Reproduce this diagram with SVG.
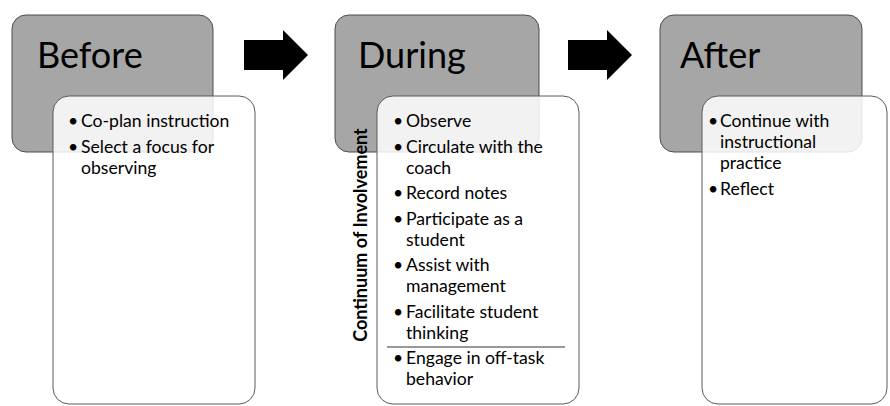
<svg xmlns="http://www.w3.org/2000/svg" width="890" height="406" viewBox="0 0 890 406">
<style>
.hdr{fill:#a6a6a6;stroke:#4d4d4d;stroke-width:1}
.body{fill:#ffffff;fill-opacity:0.85;stroke:#5a5a5a;stroke-width:1}
.title{font-family:Lato,"Liberation Sans",sans-serif;font-size:36px;fill:#000}
.item{font-family:Lato,"Liberation Sans",sans-serif;font-size:17.6px;fill:#000}
.vert{font-family:Lato,"Liberation Sans",sans-serif;font-size:18px;font-weight:bold;fill:#000}
.arrow{fill:#000}
</style>
<rect width="890" height="406" fill="#ffffff"/>
<g id="connectors">
<polygon class="arrow" points="244,40 283,40 283,30 308,55 283,80 283,70 244,70"/>
<polygon class="arrow" points="568,40 607,40 607,30 632,55 607,80 607,70 568,70"/>
</g>
<g id="before">
<rect class="hdr" x="12" y="15" width="201" height="137" rx="14"/>
<text class="title" x="37" y="68">Before</text>
<rect class="body" x="53" y="96" width="202" height="308" rx="16"/>
<text class="item"><tspan x="68" y="127">•</tspan><tspan x="81" y="127">Co-plan instruction</tspan><tspan x="68" y="152.5">•</tspan><tspan x="81" y="152.5">Select a focus for</tspan><tspan x="81" y="173.5">observing</tspan></text>
</g>
<g id="during">
<rect class="hdr" x="335" y="15" width="204" height="137" rx="14"/>
<text class="title" x="358" y="68">During</text>
<rect class="body" x="377" y="96" width="202" height="308" rx="16"/>
<text class="item">
<tspan x="393" y="127">•</tspan><tspan x="406" y="127">Observe</tspan>
<tspan x="393" y="152.5">•</tspan><tspan x="406" y="152.5">Circulate with the</tspan>
<tspan x="406" y="173.5">coach</tspan>
<tspan x="393" y="199">•</tspan><tspan x="406" y="199">Record notes</tspan>
<tspan x="393" y="224.5">•</tspan><tspan x="406" y="224.5">Participate as a</tspan>
<tspan x="406" y="245.5">student</tspan>
<tspan x="393" y="271">•</tspan><tspan x="406" y="271">Assist with</tspan>
<tspan x="406" y="292">management</tspan>
<tspan x="393" y="317.5">•</tspan><tspan x="406" y="317.5">Facilitate student</tspan>
<tspan x="406" y="338.5">thinking</tspan>
<tspan x="393" y="364">•</tspan><tspan x="406" y="364">Engage in off-task</tspan>
<tspan x="406" y="385">behavior</tspan>
</text>
<line x1="387" y1="347" x2="565" y2="347" stroke="#333" stroke-width="1"/>
<text class="vert" transform="translate(367,235) rotate(-90)" text-anchor="middle">Continuum of Involvement</text>
</g>
<g id="after">
<rect class="hdr" x="660" y="15" width="202" height="137" rx="14"/>
<text class="title" x="680" y="68">After</text>
<rect class="body" x="702" y="96" width="185" height="308" rx="16"/>
<text class="item"><tspan x="708" y="127">•</tspan><tspan x="720" y="127">Continue with</tspan><tspan x="720" y="148">instructional</tspan><tspan x="720" y="169">practice</tspan><tspan x="708" y="194.5">•</tspan><tspan x="720" y="194.5">Reflect</tspan></text>
</g>
</svg>
